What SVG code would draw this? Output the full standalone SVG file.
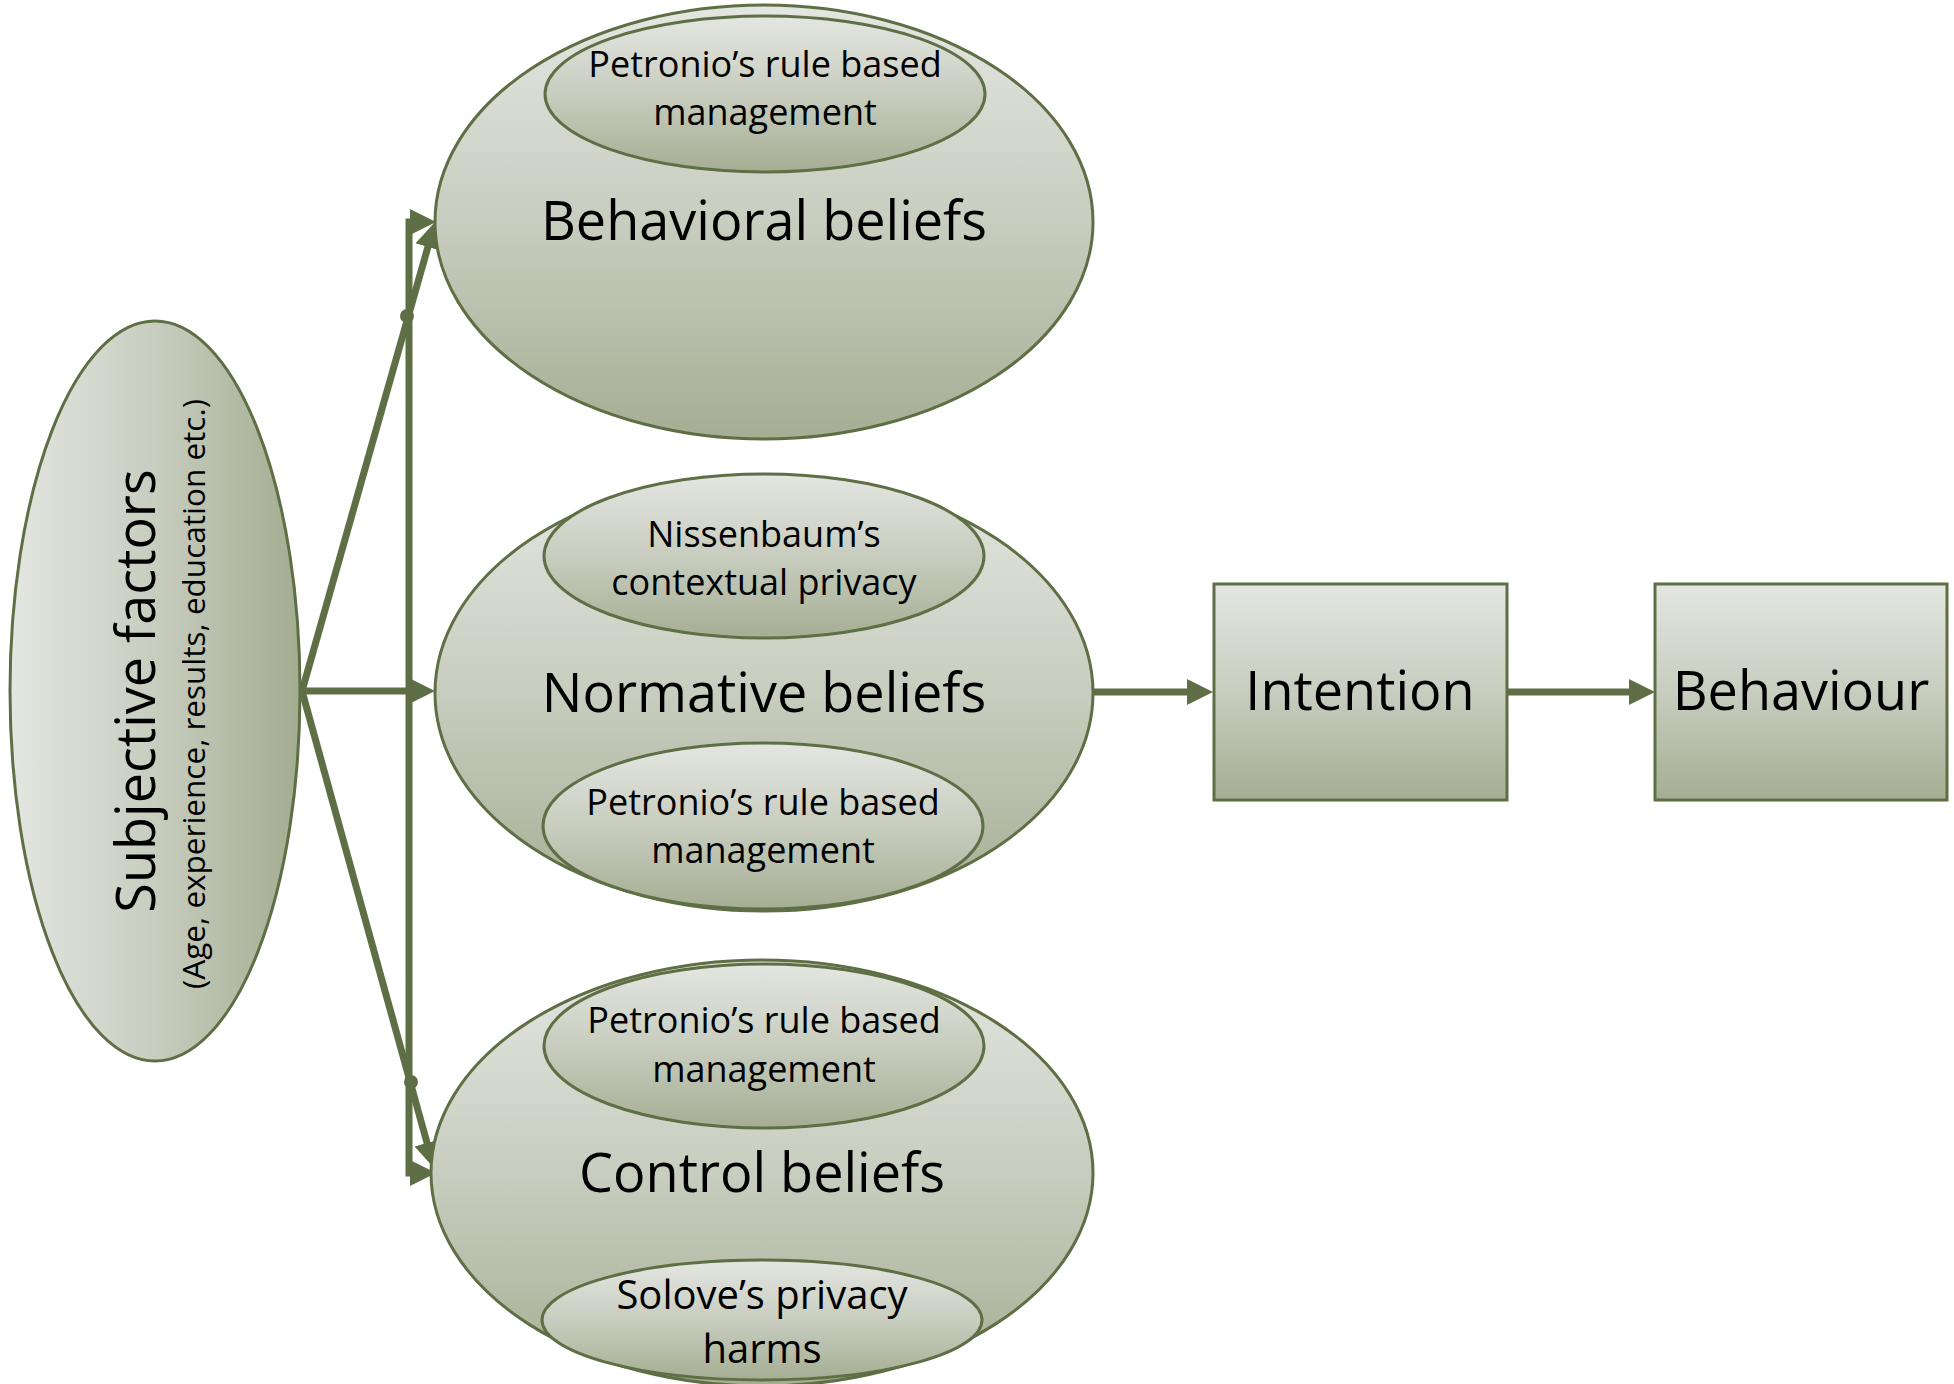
<svg xmlns="http://www.w3.org/2000/svg" width="1954" height="1384" viewBox="0 0 1954 1384">
<defs>
<linearGradient id="gv" x1="0" y1="0" x2="0" y2="1">
<stop offset="0" stop-color="#e4e6e1"/>
<stop offset="0.5" stop-color="#c8cdbf"/>
<stop offset="1" stop-color="#a5ae93"/>
</linearGradient>
<linearGradient id="gh" x1="0" y1="0" x2="1" y2="0">
<stop offset="0" stop-color="#e4e6e1"/>
<stop offset="0.5" stop-color="#c8cdbf"/>
<stop offset="1" stop-color="#a3ad90"/>
</linearGradient>
<marker id="ah" viewBox="0 0 26 26" refX="1" refY="13" markerWidth="26" markerHeight="26" markerUnits="userSpaceOnUse" orient="auto-start-reverse">
<path d="M0,0 L26,13 L0,26 z" fill="#5f6f45"/>
</marker>
</defs>
<style>
.sh{fill:url(#gv);stroke:#5f6f45;stroke-width:3}
.shh{fill:url(#gh);stroke:#5f6f45;stroke-width:3}
.con{fill:none;stroke:#5f6f45;stroke-width:7}
text{font-family:"Open Sans","Noto Sans","DejaVu Sans",sans-serif;fill:#000;text-anchor:middle}
.big{font-size:54px}
.sm{font-size:36px}
.smb{font-size:40px}
.sub{font-size:31.5px}
</style>

<g id="connectors">
<line class="con" x1="302" y1="691" x2="428.2" y2="246" marker-end="url(#ah)"/>
<line class="con" x1="302" y1="691" x2="410" y2="691" marker-end="url(#ah)"/>
<line class="con" x1="302" y1="691" x2="427.3" y2="1143.9" marker-end="url(#ah)"/>
<path class="con" d="M411,222 H409 V1173 H411" marker-start="url(#ah)" marker-end="url(#ah)"/>
<circle cx="407" cy="316" r="7" fill="#5f6f45"/>
<circle cx="411" cy="1082" r="7" fill="#5f6f45"/>
<line class="con" x1="1093" y1="692" x2="1188" y2="692" marker-end="url(#ah)"/>
<line class="con" x1="1507" y1="692" x2="1630" y2="692" marker-end="url(#ah)"/>
</g>

<g id="subjective">
<ellipse class="shh" cx="155" cy="691" rx="145" ry="370"/>
<text class="big" transform="translate(155,691) rotate(-90)">Subjective factors</text>
<text class="sub" transform="translate(205,694) rotate(-90)">(Age, experience, results, education etc.)</text>
</g>

<g id="behavioral">
<ellipse class="sh" cx="764" cy="222" rx="329" ry="217"/>
<text class="big" x="764" y="240">Behavioral beliefs</text>
</g>
<g id="behavioral-petronio">
<ellipse class="sh" cx="765" cy="94" rx="220" ry="78"/>
<text class="sm" x="765" y="77">Petronio’s rule based</text>
<text class="sm" x="765" y="125">management</text>
</g>

<g id="normative">
<ellipse class="sh" cx="764" cy="693" rx="329" ry="218"/>
<text class="big" x="764" y="712">Normative beliefs</text>
</g>
<g id="normative-nissenbaum">
<ellipse class="sh" cx="764" cy="556" rx="220" ry="82"/>
<text class="sm" x="764" y="547">Nissenbaum’s</text>
<text class="sm" x="764" y="595">contextual privacy</text>
</g>
<g id="normative-petronio">
<ellipse class="sh" cx="763" cy="826" rx="220" ry="83"/>
<text class="sm" x="763" y="815">Petronio’s rule based</text>
<text class="sm" x="763" y="863">management</text>
</g>

<g id="control">
<ellipse class="sh" cx="762" cy="1173" rx="331" ry="213"/>
<text class="big" x="762" y="1192">Control beliefs</text>
</g>
<g id="control-petronio">
<ellipse class="sh" cx="764" cy="1046" rx="220" ry="82"/>
<text class="sm" x="764" y="1033">Petronio’s rule based</text>
<text class="sm" x="764" y="1082">management</text>
</g>
<g id="control-solove">
<ellipse class="sh" cx="762" cy="1320" rx="220" ry="60"/>
<text class="smb" x="762" y="1309">Solove’s privacy</text>
<text class="smb" x="762" y="1363">harms</text>
</g>

<g id="intention">
<rect class="sh" x="1214" y="584" width="293" height="216"/>
<text class="big" x="1360" y="710">Intention</text>
</g>
<g id="behaviour">
<rect class="sh" x="1655" y="584" width="292" height="216"/>
<text class="big" x="1801" y="710">Behaviour</text>
</g>
</svg>
